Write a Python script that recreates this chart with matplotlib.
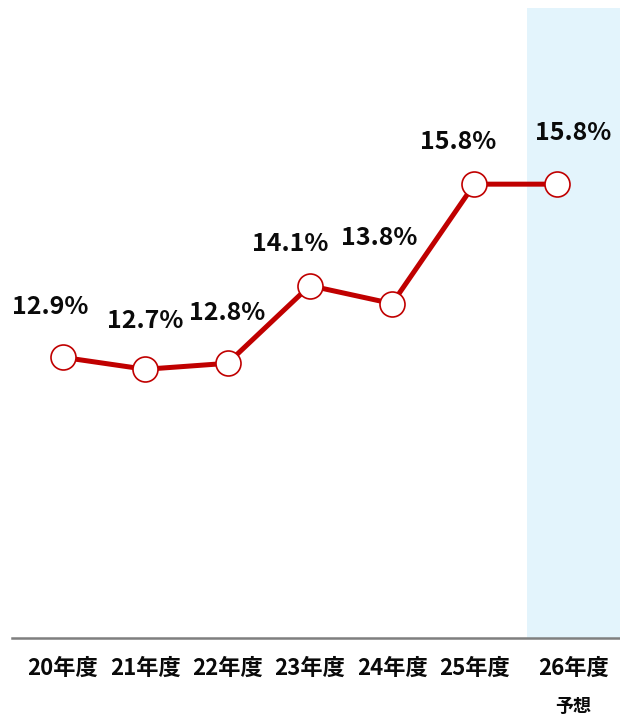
import matplotlib
matplotlib.use("Agg")
from matplotlib import pyplot as plt

plt.rcParams['font.family'] = ['Noto Sans CJK JP', 'DejaVu Sans']

years = ["20年度", "21年度", "22年度", "23年度", "24年度", "25年度", "26年度"]
rates = [12.9, 12.7, 12.8, 14.1, 13.8, 15.8, 15.8]
forecast_note = "予想"

# label offsets in points (dx, dy) from each marker
label_offsets = [(-9, 36), (0, 35), (0, 36), (-14, 30), (-9, 47), (-12, 30), (12, 37)]

red = "#c00000"

fig = plt.figure(figsize=(6.2, 7.16), dpi=100)
ax = fig.add_axes([12 / 620, 1 - 638 / 716, 608 / 620, 630 / 716])

xs = list(range(len(years)))
ax.set_xlim(-0.62, 6.77)
ax.set_ylim(8.2, 18.75)

# forecast band
ax.axvspan(5.64, 6.77, color="#e3f4fc", zorder=0, lw=0)

ax.plot(xs, rates, color=red, lw=3.6, marker="o", markersize=18,
        markerfacecolor="white", markeredgecolor=red, markeredgewidth=1.2,
        zorder=3, solid_capstyle="round")

for x, v, (dx, dy) in zip(xs, rates, label_offsets):
    ax.annotate(f"{v:.1f}%", (x, v), xytext=(dx, dy), textcoords="offset points",
                ha="center", va="center", fontsize=18, fontweight="bold",
                color="#0a0a0a")

for s in ["top", "right", "left"]:
    ax.spines[s].set_visible(False)
ax.spines["bottom"].set_color("#7f7f7f")
ax.spines["bottom"].set_linewidth(1.8)
ax.set_yticks([])
ax.set_xticks([])

for x, name in zip(xs, years):
    tx = x if x < len(years) - 1 else 6.2
    ax.text(tx, -0.049, name, transform=ax.get_xaxis_transform(),
            ha="center", va="center", fontsize=16, fontweight="bold", color="#0a0a0a")
ax.text(6.2, -0.108, forecast_note, transform=ax.get_xaxis_transform(),
        ha="center", va="center", fontsize=13, fontweight="bold", color="#0a0a0a")

fig.savefig("out.png", dpi=100)
